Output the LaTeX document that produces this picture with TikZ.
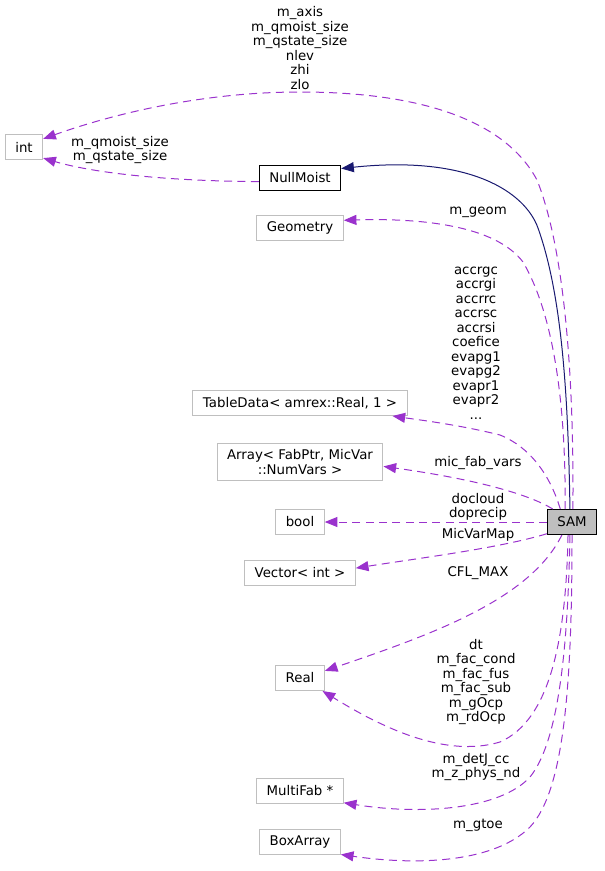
\documentclass[tikz,border=0pt]{standalone}
\usepackage{fontspec}
\setmainfont{DejaVu Sans}
\usetikzlibrary{arrows.meta}
\definecolor{edgepurple}{HTML}{9A32CD}
\definecolor{inhnavy}{HTML}{191970}
\definecolor{boxgray}{HTML}{BFBFBF}

\begin{document}
\begin{tikzpicture}[x=0.75pt, y=-0.75pt, font=\fontsize{10}{10.9}\selectfont,
  cls/.style={draw=boxgray, line width=0.75pt, inner xsep=7.5pt, inner ysep=4.5pt, minimum height=18.75pt, align=center},
  doc/.style={cls, draw=black},
  lbl/.style={inner sep=0pt, align=center},
  mem/.style={draw=edgepurple, line width=0.75pt, dash pattern=on 6pt off 4pt, -{Triangle[length=9.5pt,width=7.5pt]}, fill=none},
  inh/.style={draw=inhnavy, line width=0.75pt, -{Triangle[length=9.5pt,width=7.5pt,fill=inhnavy]}}]
\useasboundingbox (0,0) rectangle (604,871);

\node[doc, fill=boxgray] (sam) at (572,522) {SAM};
\node[doc] (null) at (300,178) {NullMoist};
\node[cls] (int) at (24,147) {int};
\foreach \nm/\yy/\txt in {geo/228/Geometry, tab/403/{TableData< amrex::Real, 1 >},
  arr/462/{Array< FabPtr, MicVar\\::NumVars >}, bool/522/bool, vec/573/{Vector< int >},
  real/678/Real, mf/791/{MultiFab *}, ba/842/BoxArray}{
  \node[cls] (\nm) at (300,\yy) {\txt};
}

% inheritance
\draw[inh] (sam.99) .. controls (568,380) and (560,290) .. (538,228)
  .. controls (525,192) and (470,155) .. (null.13);

% members
\draw[mem] (sam.86) .. controls (574,380) and (565,250) .. (537,180)
  .. controls (505,120) and (420,92) .. (300,92)
  .. controls (200,92) and (110,115) .. (int.23);
\draw[mem] (null.185) .. controls (160,181) and (90,172) .. (int.-30);
\draw[mem] (sam.118) .. controls (566,420) and (557,320) .. (523,262)
  .. controls (495,225) and (420,218) .. (geo.10);
\draw[mem] (sam.132) .. controls (550,475) and (530,447) .. (500,435)
  .. controls (460,425) and (420,420) .. (tab.-8);
\draw[mem] (sam.146) .. controls (530,495) and (480,480) .. (arr.-3);
\draw[mem] (sam.west) -- (bool.east);
\draw[mem] (sam.205) .. controls (500,548) and (420,558) .. (vec.5);
\draw[mem] (sam.232) .. controls (530,600) and (430,635) .. (real.16);
\draw[mem] (sam.253) .. controls (566,640) and (550,720) .. (500,742)
  .. controls (440,760) and (370,720) .. (real.-30);
\draw[mem] (sam.261) .. controls (568,640) and (560,740) .. (530,777)
  .. controls (500,810) and (420,815) .. (mf.-15);
\draw[mem] (sam.270) .. controls (572,680) and (565,790) .. (530,827)
  .. controls (495,862) and (420,866) .. (ba.-17);

% edge labels
\node[lbl] (l-int) at (300,48) {m\_axis\\m\_qmoist\_size\\m\_qstate\_size\\nlev\\zhi\\zlo};
\node[lbl] (l-null) at (120,150) {m\_qmoist\_size\\m\_qstate\_size};
\node[lbl] (l-geo) at (478,212) {m\_geom};
\node[lbl] (l-tab) at (476,343) {accrgc\\accrgi\\accrrc\\accrsc\\accrsi\\coefice\\evapg1\\evapg2\\evapr1\\evapr2\\...};
\node[lbl] (l-arr) at (478,463) {mic\_fab\_vars};
\node[lbl] (l-bool) at (478,507) {docloud\\doprecip};
\node[lbl] (l-vec) at (478,535) {MicVarMap};
\node[lbl] (l-cfl) at (478,573) {CFL\_MAX};
\node[lbl] (l-real) at (476,682) {dt\\m\_fac\_cond\\m\_fac\_fus\\m\_fac\_sub\\m\_gOcp\\m\_rdOcp};
\node[lbl] (l-mf) at (476,767) {m\_detJ\_cc\\m\_z\_phys\_nd};
\node[lbl] (l-ba) at (478,825) {m\_gtoe};
\end{tikzpicture}
\end{document}
